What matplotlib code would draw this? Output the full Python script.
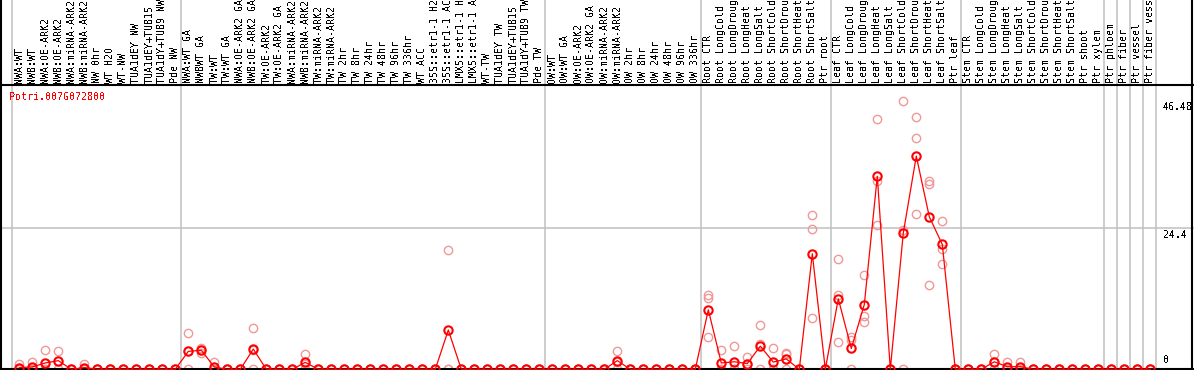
import matplotlib
matplotlib.use("Agg")
import matplotlib.pyplot as plt
import matplotlib.transforms as mtransforms

plt.rcParams['font.family'] = ['DejaVu Sans Mono']
plt.rcParams['text.antialiased'] = False

gene_id = "Potri.007G072800"

samples = [
    "NWA:WT", "NWB:WT", "NWA:OE-ARK2", "NWB:OE-ARK2", "NWA:miRNA-ARK2", "NWB:miRNA-ARK2",
    "NW 0hr", "WT H2O", "WT-NW", "TUA1dEY NW", "TUA1dEY+TUB15", "TUA1dY+TUB9 NW", "Pde NW",
    "NWA:WT GA", "NWBWT GA", "TW:WT", "TW:WT GA", "NWA:OE-ARK2 GA", "NWB:OE-ARK2 GA",
    "TW:OE-ARK2", "TW:OE-ARK2 GA", "NWA:miRNA-ARK2", "NWB:miRNA-ARK2", "TW:miRNA-ARK2",
    "TW:miRNA-ARK2", "TW 2hr", "TW 8hr", "TW 24hr", "TW 48hr", "TW 96hr", "TW 336hr",
    "WT ACC", "35S::etr1-1 H2", "35S::etr1-1 AC", "LMX5::etr1-1 H", "LMX5::etr1-1 A",
    "WT-TW", "TUA1dEY TW", "TUA1dEY+TUB15", "TUA1dY+TUB9 TW", "Pde TW",
    "OW:WT", "OW:WT GA", "OW:OE-ARK2", "OW:OE-ARK2 GA", "OW:miRNA-ARK2", "OW:miRNA-ARK2",
    "OW 2hr", "OW 8hr", "OW 24hr", "OW 48hr", "OW 96hr", "OW 336hr",
    "Root CTR", "Root LongCold", "Root LongDroug", "Root LongHeat", "Root LongSalt",
    "Root ShortCold", "Root ShortDrou", "Root ShortHeat", "Root ShortSalt", "Ptr root",
    "Leaf CTR", "Leaf LongCold", "Leaf LongDroug", "Leaf LongHeat", "Leaf LongSalt",
    "Leaf ShortCold", "Leaf ShortDrou", "Leaf ShortHeat", "Leaf ShortSalt", "Ptr leaf",
    "Stem CTR", "Stem LongCold", "Stem LongDroug", "Stem LongHeat", "Stem LongSalt",
    "Stem ShortCold", "Stem ShortDrou", "Stem ShortHeat", "Stem ShortSalt", "Ptr shoot",
    "Ptr xylem", "Ptr phloem", "Ptr fiber", "Ptr vessel", "Ptr fiber vess",
]

# mean expression per sample
means = [
    0.3, 0.4, 1.1, 1.5, 0, 0.3, 0, 0, 0, 0, 0, 0, 0,
    3.1, 3.3, 0.4, 0, 0, 3.5, 0, 0, 0, 1.2, 0, 0, 0, 0, 0, 0, 0, 0,
    0, 0, 6.8, 0, 0, 0, 0, 0, 0, 0,
    0, 0, 0, 0, 0, 1.5, 0, 0, 0, 0, 0, 0,
    10.3, 1.1, 1.3, 1.0, 4.0, 1.25, 1.8, 0, 20.0, 0,
    12.2, 3.6, 11.2, 33.4, 0, 23.6, 36.9, 26.4, 21.6, 0,
    0, 0, 1.3, 0.45, 0.45, 0, 0, 0, 0, 0,
    0, 0, 0, 0, 0,
]

# replicate values (three per sample)
rep1 = [
    1.0, 1.2, 3.4, 3.1, 0, 1.0, 0, 0, 0, 0, 0, 0, 0,
    6.2, 3.7, 1.2, 0, 0, 7.1, 0, 0, 0, 2.6, 0, 0, 0, 0, 0, 0, 0, 0,
    0, 0, 20.6, 0, 0, 0, 0, 0, 0, 0,
    0, 0, 0, 0, 0, 3.2, 0, 0, 0, 0, 0, 0,
    12.85, 3.3, 4.1, 2.1, 7.6, 3.7, 2.9, 0, 26.7, 0,
    19.0, 5.6, 16.3, 43.3, 0, 46.48, 43.7, 32.5, 25.7, 0,
    0, 0, 2.7, 1.26, 1.26, 0, 0, 0, 0, 0,
    0, 0, 0, 0, 0,
]
rep2 = [
    0, 0, 0, 1.4, 0, 0, 0, 0, 0, 0, 0, 0, 0,
    3.1, 3.4, 0, 0, 0, 3.4, 0, 0, 0, 1.0, 0, 0, 0, 0, 0, 0, 0, 0,
    0, 0, 0, 0, 0, 0, 0, 0, 0, 0,
    0, 0, 0, 0, 0, 1.3, 0, 0, 0, 0, 0, 0,
    12.4, 0, 0, 0.9, 4.3, 0, 2.6, 0, 24.3, 0,
    12.85, 5.1, 9.2, 32.5, 0, 24.1, 40.1, 32.1, 20.8, 0,
    0, 0, 1.2, 0, 0, 0, 0, 0, 0, 0,
    0, 0, 0, 0, 0,
]
rep3 = [
    0, 0, 0, 0, 0, 0, 0, 0, 0, 0, 0, 0, 0,
    0, 2.8, 0, 0, 0, 0, 0, 0, 0, 0, 0, 0, 0, 0, 0, 0, 0, 0,
    0, 0, 0, 0, 0, 0, 0, 0, 0, 0,
    0, 0, 0, 0, 0, 0, 0, 0, 0, 0, 0, 0,
    5.6, 0, 0, 0, 0, 0, 0, 0, 8.9, 0,
    4.7, 0, 8.2, 24.9, 0, 0, 26.9, 14.6, 18.3, 0,
    0, 0, 0, 0, 0, 0, 0, 0, 0, 0,
    0, 0, 0, 0, 0,
]

# index (0-based) of the first sample of each group, plus the end
group_starts = [0, 13, 41, 53, 63, 73, 84, 85, 86, 87, 88]

ytick_values = [0, 24.4, 46.48]
ytick_labels = ["0", "24.4", "46.48"]

W, H = 1194, 370
fig = plt.figure(figsize=(W / 100, H / 100), dpi=100)
bottom_px = 369.3
top_px = 85.0
ax = fig.add_axes([0, (H - bottom_px) / H, 1, (bottom_px - top_px) / H])
px_per_unit = 5.779
ax.set_ylim(0, (bottom_px - top_px) / px_per_unit)
x0_px, step = 19.3, 13.0
ax.set_xlim((0 - x0_px) / step, (W - x0_px) / step)
ax.set_xticks([])
ax.set_yticks([])
for s in ['left', 'right']:
    ax.spines[s].set_visible(False)
for s in ['top', 'bottom']:
    ax.spines[s].set_linewidth(1.5)
    ax.spines[s].set_color('black')

grid_c = '#c0c0c0'
ext = bottom_px / (bottom_px - top_px)  # axes fraction reaching figure top
for g in group_starts:
    ax.axvline(g - 0.6, ymin=0, ymax=ext, color=grid_c, lw=1.1, clip_on=False, zorder=0)
ax.axhline(ytick_values[1], color=grid_c, lw=1.1, zorder=0)

# outer borders
for xf in [1 / W, 1192 / W]:
    ax.plot([xf, xf], [0, ext], transform=ax.transAxes, color='black', lw=1.5,
            clip_on=False, zorder=5)

xs = list(range(len(samples)))
rep_c = '#f09898'
for reps in (rep1, rep2, rep3):
    ax.plot(xs, reps, linestyle='none', marker='o', markersize=6.0, markerfacecolor='none',
            markeredgecolor=rep_c, markeredgewidth=1.0, clip_on=False, zorder=2)
ax.plot(xs, means, color='#ff0000', lw=0.9, marker='o', markersize=6.0,
        markerfacecolor='none', markeredgecolor='#ff0000', markeredgewidth=1.5,
        clip_on=False, zorder=3)

fs = 7.2
# sample labels (rotated, above the top separator)
for i, lab in enumerate(samples):
    ax.annotate(lab, xy=(i, 1), xycoords=('data', 'axes fraction'), xytext=(0, 1.2),
                textcoords='offset points', rotation=90, ha='center', va='bottom',
                fontsize=fs, color='black', annotation_clip=False)

ax.text(9.5 / W, H - 97, gene_id, transform=mtransforms.blended_transform_factory(
    ax.transAxes, mtransforms.IdentityTransform()), color='#ff0000', fontsize=fs,
    ha='left', va='center')

xl = 1163 / W
for v, lab in zip(ytick_values, ytick_labels):
    if v == 0:
        ax.annotate(lab, xy=(xl, v), xycoords=('axes fraction', 'data'), xytext=(0, 3),
                    textcoords='offset points', ha='left', va='bottom', fontsize=fs)
    else:
        ax.annotate(lab, xy=(xl, v), xycoords=('axes fraction', 'data'), xytext=(0, -1.2),
                    textcoords='offset points', ha='left', va='top', fontsize=fs)

fig.savefig('out.png', dpi=100)
